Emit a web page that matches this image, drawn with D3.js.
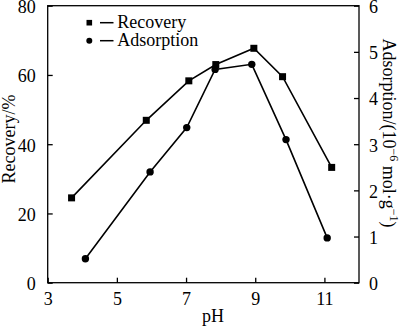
<!DOCTYPE html>
<html><head><meta charset="utf-8">
<script src="https://cdn.jsdelivr.net/npm/d3@7"></script>
<style>
html,body{margin:0;padding:0;background:#fff;}
svg, svg text{font-family:"Liberation Serif","Times New Roman","DejaVu Serif",serif !important;fill:#000;}
</style></head>
<body>
<svg id="c" width="400" height="326" font-family="Liberation Serif"></svg>
<script>
const recPH   = [3.69, 5.85, 7.08, 7.86, 8.96, 9.79, 11.21];
const recVal  = [24.5, 46.9, 58.3, 63.0, 67.7, 59.5, 33.3];
const adsPH   = [4.09, 5.96, 7.02, 7.84, 8.90, 9.89, 11.08];
const adsVal  = [0.52, 2.40, 3.36, 4.62, 4.73, 3.10, 0.97];
const xTicks  = [3, 5, 7, 9, 11];
const yLTicks = [0, 20, 40, 60, 80];
const yRTicks = [0, 1, 2, 3, 4, 5, 6];

const svg = d3.select("#c");
const L = 47.7, R = 359, T = 5.7, B = 282.7;
const x = d3.scaleLinear().domain([3, 12]).range([L, R]);
const yL = d3.scaleLinear().domain([0, 80]).range([B, T]);
const yR = d3.scaleLinear().domain([0, 6]).range([B, T]);
const fs = 18;
const FF = "Liberation Serif";

// frame
svg.append("rect").attr("x", L).attr("y", T).attr("width", R - L).attr("height", B - T)
  .attr("fill", "none").attr("stroke", "#000").attr("stroke-width", 1.3);

function styleAxis(g) {
  g.attr("font-family", FF).attr("font-size", fs);
  g.select(".domain").remove();
  g.selectAll("line").attr("stroke", "#000").attr("stroke-width", 1.3);
  g.selectAll("text").attr("font-size", fs).attr("font-family", FF);
}
svg.append("g").attr("transform", `translate(0,${B})`)
  .call(d3.axisBottom(x).tickValues(xTicks).tickSize(-5).tickPadding(10).tickFormat(d3.format("d")))
  .call(styleAxis);
svg.append("g").attr("transform", `translate(${L},0)`)
  .call(d3.axisLeft(yL).tickValues(yLTicks).tickSize(-5).tickPadding(12).tickFormat(d3.format("d")))
  .call(styleAxis)
  .call(g => g.selectAll("text").attr("dy", "0.38em"));
svg.append("g").attr("transform", `translate(${R},0)`)
  .call(d3.axisRight(yR).tickValues(yRTicks).tickSize(-5).tickPadding(10).tickFormat(d3.format("d")))
  .call(styleAxis)
  .call(g => g.selectAll("text").attr("dy", "0.38em"));

// titles
svg.append("text").attr("x", 213).attr("y", 322).attr("text-anchor", "middle")
  .attr("font-family", FF).attr("font-size", fs).text("pH");
svg.append("text").attr("transform", `translate(15,139) rotate(-90)`).attr("text-anchor", "middle")
  .attr("font-family", FF).attr("font-size", fs).text("Recovery/%");
const rt = svg.append("text").attr("transform", `translate(383,133) rotate(90)`).attr("text-anchor", "middle")
  .attr("font-family", FF).attr("font-size", fs);
rt.append("tspan").text("Adsorption/(10");
rt.append("tspan").attr("font-size", 12).attr("dy", -7).text("−6");
rt.append("tspan").attr("dy", 7).text(" mol·g");
rt.append("tspan").attr("font-size", 12).attr("dy", -7).text("−1");
rt.append("tspan").attr("dy", 7).text(")");

// lines
const recData = recPH.map((p, i) => [p, recVal[i]]);
const adsData = adsPH.map((p, i) => [p, adsVal[i]]);
const lineRec = d3.line().x(d => x(d[0])).y(d => yL(d[1]));
const lineAds = d3.line().x(d => x(d[0])).y(d => yR(d[1]));
svg.append("path").attr("d", lineRec(recData)).attr("fill", "none").attr("stroke", "#000").attr("stroke-width", 1.6);
svg.append("path").attr("d", lineAds(adsData)).attr("fill", "none").attr("stroke", "#000").attr("stroke-width", 1.6);
const sq = 7;
svg.selectAll(".sq").data(recData).enter().append("rect")
  .attr("x", d => x(d[0]) - sq / 2).attr("y", d => yL(d[1]) - sq / 2)
  .attr("width", sq).attr("height", sq).attr("fill", "#000");
svg.selectAll(".ci").data(adsData).enter().append("circle")
  .attr("cx", d => x(d[0])).attr("cy", d => yR(d[1])).attr("r", 3.7).attr("fill", "#000");

// legend
const lg = svg.append("g").attr("font-family", FF);
lg.append("rect").attr("x", 89.3 - 2.8).attr("y", 22.7 - 2.8).attr("width", 5.6).attr("height", 5.6).attr("fill", "#000");
lg.append("line").attr("x1", 100).attr("x2", 113.5).attr("y1", 22.7).attr("y2", 22.7).attr("stroke", "#000").attr("stroke-width", 1.5);
lg.append("text").attr("x", 117.3).attr("y", 28).attr("font-size", fs).text("Recovery");
lg.append("circle").attr("cx", 89.3).attr("cy", 40.7).attr("r", 3).attr("fill", "#000");
lg.append("line").attr("x1", 100).attr("x2", 113.5).attr("y1", 40.7).attr("y2", 40.7).attr("stroke", "#000").attr("stroke-width", 1.5);
lg.append("text").attr("x", 117.3).attr("y", 46).attr("font-size", fs).text("Adsorption");
</script>
</body></html>
